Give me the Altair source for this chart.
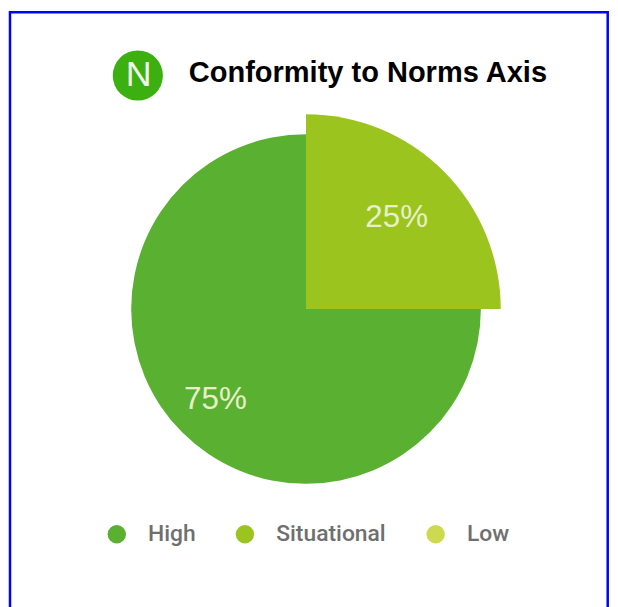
import altair as alt
import pandas as pd

categories = ["High", "Situational", "Low"]
values = [75, 25, 0]
slice_order = [2, 1, 3]
colors = ["#5ab031", "#9bc41e", "#cdd94f"]
title_text = "Conformity to Norms Axis"
logo_letter = "N"

df = pd.DataFrame({"category": categories, "value": values, "slice": slice_order})
one = pd.DataFrame({"letter": [logo_letter]})

CX, CY = 300, 301

color = alt.Color(
    "category:N",
    scale=alt.Scale(domain=categories, range=colors),
    legend=alt.Legend(
        title=None,
        orient="none",
        legendX=98,
        legendY=516,
        direction="horizontal",
        symbolType="circle",
        symbolSize=340,
        symbolStrokeWidth=0,
        labelFont="Roboto",
        labelFontSize=23,
        labelFontWeight=500,
        labelColor="#6f6f6f",
        labelOffset=20,
        columnPadding=38,
    ),
)
theta = alt.Theta("value:Q", stack=True, scale=alt.Scale(domain=[0, 100]))
order = alt.Order("slice:Q")

frame = (
    alt.Chart(one)
    .mark_rect(fill="white", stroke="#0000ff", strokeWidth=2.5)
    .encode(x=alt.value(2), x2=alt.value(603.7), y=alt.value(2.3), y2=alt.value(660))
)

arcs = (
    alt.Chart(df)
    .mark_arc()
    .encode(
        theta=theta,
        order=order,
        color=color,
        radius=alt.Radius("value:Q", stack=False, scale=alt.Scale(domain=[25, 75], range=[196, 176])),
        radius2=alt.value(0),
        x=alt.value(CX),
        y=alt.value(CY),
    )
)

labels = (
    alt.Chart(df)
    .transform_filter(alt.datum.value > 0)
    .transform_calculate(label="datum.value + '%'")
    .mark_text(radius=129, font="Liberation Sans", fontSize=31.5, color="#e8f0c8")
    .encode(theta=theta, order=order, text="label:N", x=alt.value(CX), y=alt.value(CY))
)

logo = (
    alt.Chart(one)
    .mark_circle(size=2550, opacity=1, color="#3cb011")
    .encode(x=alt.value(130.7), y=alt.value(66))
)
logo_text = (
    alt.Chart(one)
    .mark_text(font="Liberation Sans", fontSize=36, color="#f2f8ee", baseline="middle")
    .encode(x=alt.value(131.5), y=alt.value(66), text="letter:N")
)

chart = (
    alt.layer(frame, arcs, labels, logo, logo_text)
    .properties(
        width=606,
        height=599,
        padding=0,
        autosize=alt.AutoSizeParams(type="none"),
        background="white",
        title=alt.TitleParams(
            title_text,
            anchor="start",
            font="Liberation Sans",
            fontSize=29.2,
            fontWeight="bold",
            color="#000000",
            dx=182,
            dy=79,
            offset=0,
        ),
    )
    .configure_view(stroke=None)
)

chart.save("out.html", embed_options={"renderer": "svg", "actions": False})
